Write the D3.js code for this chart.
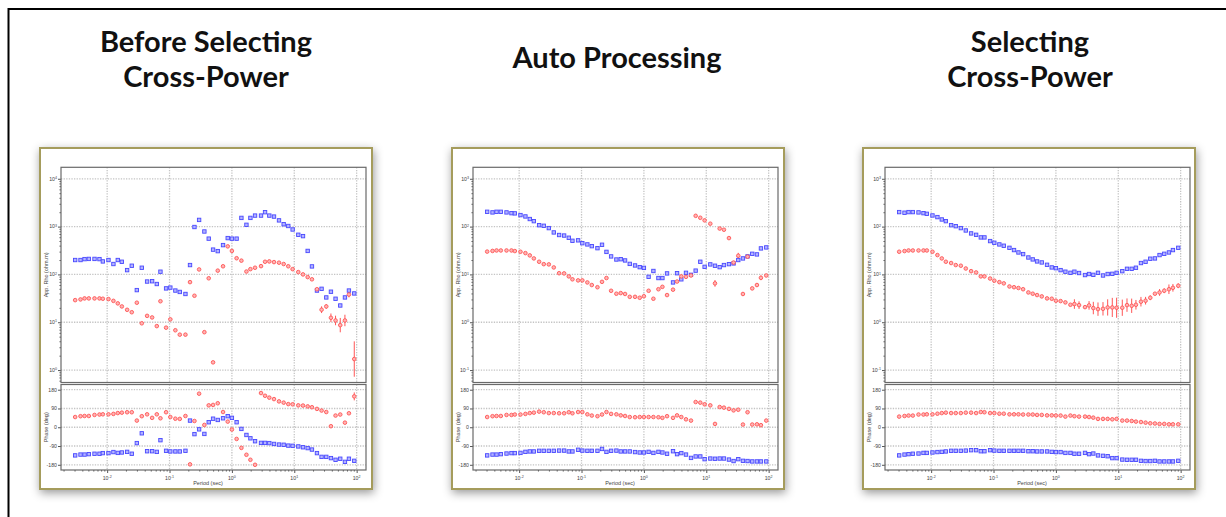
<!DOCTYPE html>
<html>
<head>
<meta charset="utf-8">
<script src="https://cdn.jsdelivr.net/npm/d3@7"></script>
<style>
  body { margin: 0; background: #fff; }
  svg { display: block; }
</style>
</head>
<body>
<svg id="chart" width="1226" height="517"></svg>
<script>
// ---- data -------------------------------------------------------------
const periods = [0.00307,0.00374,0.00434,0.00508,0.00627,0.00753,0.00853,0.0105,0.0126,0.0148,
  0.0172,0.0209,0.0248,0.0299,0.0359,0.0437,0.0526,0.0625,0.0715,0.0881,
  0.103,0.124,0.146,0.180,0.213,0.251,0.298,0.362,0.425,0.499,
  0.593,0.721,0.857,1.00,1.19,1.42,1.71,1.98,2.35,2.93,
  3.40,3.98,4.73,5.69,6.76,8.02,9.41,11.6,13.8,16.4,
  19.2,23.1,27.4,32.6,38.7,45.9,54.6,64.9,75.2,91.6];

const titles = [["Before Selecting", "Cross-Power"], ["Auto Processing"], ["Selecting", "Cross-Power"]];

const xTickExps = [-2, -1, 0, 1, 2];
const phaseTicks = [180, 90, 0, -90, -180];
const rhoTopDecade = [4, 3, 3];

// Before selecting cross-power
const rhoXY1 = [200,200,209,211,211,209,187,200,165,200, 184,123,152,47,138,71,72,63,114,51,
  53,46,43,39,157,980,1380,790,560,330, 307,410,575,560,560,1520,1090,1520,1700,1700,
  2000,1700,1620,1350,1120,1030,870,675,632,310, 147,46,50,33,43.5,31,22.4,33,46,40];
const rhoYX1 = [29,30,31.5,31.5,31.5,31.5,31,30.5,28,24.8, 21.4,18.2,16.2,25.6,9.5,13.6,12.6,8.3,27.5,7.7,
  11.5,6.8,5.5,5.5,69,35.8,127,6.2,83,1.45, 120,148,386,310,218,194,115,129,138,149,
  184,187,181,176,165,148,129,112,100,88, 79,49,18.3,21.4,12.4,10.9,8.7,10.9,38,1.7];
const phiXY1 = [-135,-131,-131,-129,-127,-127,-124,-124,-119,-123, -121,-118,-127,-76,-29,-115,-115,-118,-62,-113,
  -116,-116,-116,-113,32,-33,-10,-32,24,41, 35,43,53,45,24,-8,-37,-53,-67,-75,
  -75,-76,-80,-83,-84,-88,-89,-92,-96,-100, -107,-124,-142,-142,-148,-156,-151,-166,-151,-161];
const phiYX1 = [49,53,54,54,59,61,62,62,64,68, 70,72,72,32,53,62,45,62,43,72,
  49,41,40,54,-178,30,161,11,105,107, 115,73,27,-11,-56,-99,-132,-156,-180,164,
  151,142,135,124,118,111,110,105,104,100, 96,88,80,73,5,56,61,22,67,148];
const rhoErrYX1 = [[52,0.07],[53,0.05],[54,0.09],[55,0.1],[56,0.15],[57,0.12],[58,0.06],[59,0.37]];
const phiErrYX1 = [[59,19]];

// Auto processing
const rhoXY2 = [204,198,204,204,198,191,189,174,163,144, 130,107,104,93,75.5,66.7,65,58.5,50.5,51.6,
  45,42.4,39,35.4,41.7,29.6,23.8,20.5,20.8,19.6, 16.6,15.4,14.2,13.7,8.9,11.8,8.4,8.4,10.5,6.8,
  10.6,7.9,10.8,9.8,12,18.4,14.4,16.2,15.2,14.2, 15.7,16.4,17,20,21.6,23.8,27,26.2,35,36.7];
const rhoYX2 = [30,31,31.7,31.7,31.7,31.7,30.8,29.8,27.9,25, 21.6,18.4,16.4,16.2,14,10.6,10.5,9.1,7.9,7.5,
  7.5,6.8,6.0,5.4,7.0,8.4,4.55,3.95,4.07,3.9, 3.4,3.4,3.25,3.5,4.55,3.1,4.9,5.5,3.7,4.8,
  7.1,9.1,8.9,9.5,168,153,135,115,6.5,91, 86,57.5,17.7,24.6,3.9,23.5,5.1,6.0,8.5,9.5];
const phiXY2 = [-135,-131,-131,-129,-126,-124,-124,-123,-118,-116, -116,-113,-113,-113,-113,-112,-112,-116,-116,-108,
  -112,-113,-113,-113,-104,-118,-113,-112,-116,-116, -116,-119,-121,-121,-118,-123,-118,-121,-127,-115,
  -129,-124,-131,-147,-140,-140,-153,-150,-151,-150, -150,-155,-162,-153,-161,-162,-164,-164,-164,-164];
const phiYX2 = [49,53,54,54,59,59,61,61,64,68, 70,75,72,68,68,67,67,72,67,73,
  73,62,56,53,61,73,64,62,57,54, 49,48,49,49,49,49,48,45,53,45,
  57,49,38,32,121,118,110,105,16,97, 94,88,81,84,13,72,13,14,10,32];
const rhoErrYX2 = [[48,0.07],[53,0.06],[54,0.04],[57,0.04],[58,0.05]];
const phiErrYX2 = [];

// Selecting cross-power
const rhoXY3 = [201,195,201,201,198,191,185,171,158,141, 130,107,102,93,83,72,67.3,59.4,59.4,49.8,
  45.9,42.4,39.8,36,32.3,28.8,26.6,22.6,20.6,18.7, 17.8,15.9,14,13.5,12.3,11.4,10.8,11.4,10.7,9.7,
  10.2,9.8,10.8,9.5,10.2,10.3,10.8,11.7,13.1,13.1, 13.8,17.3,18.4,21.3,21.6,25.4,27,28.8,32.3,36];
const rhoYX3 = [29.8,30.8,31.7,31.7,31.7,31.7,31.7,29.8,25.4,21.6, 18.4,17.3,15.7,15.2,13.3,11.7,11,9.1,9.1,8.2,
  7.4,6.9,6.5,5.6,5.4,5.2,4.9,4.2,3.95,3.7, 3.47,3.15,3.1,2.82,2.77,2.6,2.32,2.4,2.28,2.07,
  2.25,1.98,1.88,1.91,2.04,2.04,2.01,2.01,2.28,2.21, 2.32,2.69,2.82,3.25,3.95,4.2,4.56,4.9,5.25,5.8];
const phiXY3 = [-135,-131,-129,-127,-126,-123,-123,-121,-119,-118, -116,-113,-113,-113,-112,-110,-110,-115,-115,-110,
  -112,-113,-113,-113,-113,-113,-113,-115,-115,-116, -116,-116,-118,-119,-119,-123,-123,-127,-127,-123,
  -129,-126,-135,-137,-139,-148,-148,-155,-156,-156, -156,-161,-162,-162,-161,-164,-164,-164,-164,-161];
const phiYX3 = [51,54,56,56,61,61,62,62,65,68, 70,68,68,68,70,70,68,73,72,68,
  68,65,65,62,62,62,61,61,61,59, 59,57,57,56,56,51,56,53,51,51,
  49,46,40,40,40,38,40,32,32,30, 27,25,22,19,18,16,16,14,14,14];
const rhoErrYX3 = [[37,0.1],[38,0.08],[40,0.09],[41,0.13],[42,0.14],[43,0.14],[44,0.17],[45,0.2],[46,0.21],
  [47,0.17],[48,0.14],[49,0.15],[50,0.1],[51,0.1],[52,0.08],[53,0.05],[55,0.07],[56,0.05],[57,0.1],[58,0.08],[59,0.05]];
const phiErrYX3 = [[42,7],[43,7],[44,7],[45,7],[46,7],[47,7],[48,6],[49,6],[50,6],[51,5],[52,5],[53,4]];

const panels = [
  { rhoXY: rhoXY1, rhoYX: rhoYX1, phiXY: phiXY1, phiYX: phiYX1, rhoErr: rhoErrYX1, phiErr: phiErrYX1 },
  { rhoXY: rhoXY2, rhoYX: rhoYX2, phiXY: phiXY2, phiYX: phiYX2, rhoErr: rhoErrYX2, phiErr: phiErrYX2 },
  { rhoXY: rhoXY3, rhoYX: rhoYX3, phiXY: phiXY3, phiYX: phiYX3, rhoErr: rhoErrYX3, phiErr: phiErrYX3 }
];

// ---- layout -----------------------------------------------------------
const layout = [
  { frameX: 40,  plotX: 61,  titleX: 206,  titleY: [52, 87], line: [42, 366],  lineY: 102 },
  { frameX: 452, plotX: 473, titleX: 617,  titleY: [68],     line: [458, 782], lineY: 104 },
  { frameX: 863, plotX: 885, titleX: 1030, titleY: [52, 87], line: [861, 1185], lineY: 104 }
];
const FRAME_Y = 148, FRAME_W = 332, FRAME_H = 341, PLOT_W = 305;
const RHO_TOP = 167.3, RHO_BOT = 382.5, PH_TOP = 384.5, PH_BOT = 470;

const BLUE_STROKE = "#4848ff", BLUE_FILL = "#b4b4ff";
const RED_STROKE = "#ff5555", RED_FILL = "#ffb4b4";

const svg = d3.select("#chart");
const defs = svg.append("defs");

const fShadow = defs.append("filter").attr("id", "frameShadow")
  .attr("x", "-8%").attr("y", "-8%").attr("width", "120%").attr("height", "118%");
fShadow.append("feDropShadow").attr("dx", 1).attr("dy", 3).attr("stdDeviation", 5)
  .attr("flood-color", "#000").attr("flood-opacity", 0.4);

const lShadow = defs.append("filter").attr("id", "lineShadow")
  .attr("x", "-5%").attr("y", "-300%").attr("width", "110%").attr("height", "900%");
lShadow.append("feDropShadow").attr("dx", 1).attr("dy", 3).attr("stdDeviation", 2)
  .attr("flood-color", "#000").attr("flood-opacity", 0.35);

const soft = defs.append("filter").attr("id", "soft");
soft.append("feGaussianBlur").attr("stdDeviation", 0.3);

// outer border
svg.append("rect").attr("x", 8.5).attr("y", 9).attr("width", 1300).attr("height", 600)
  .attr("fill", "none").attr("stroke", "#000").attr("stroke-width", 2);

function pow10Label(sel, exp) {
  sel.append("tspan").text("10");
  sel.append("tspan").attr("dy", "-0.45em").attr("font-size", "0.7em").text(exp);
}

function minorTicks(lo, hi) {
  const out = [];
  for (let d = Math.floor(lo); d <= Math.ceil(hi); d++) {
    for (let m = 2; m <= 9; m++) {
      const v = m * Math.pow(10, d);
      const l = Math.log10(v);
      if (l >= lo && l <= hi) out.push(v);
    }
  }
  return out;
}

panels.forEach((d, k) => {
  const L = layout[k];
  const g = svg.append("g");

  // title and red underline
  const t = g.append("g");
  titles[k].forEach((line, j) => {
    t.append("text").attr("x", L.titleX).attr("y", L.titleY[j])
      .attr("text-anchor", "middle").attr("font-family", "Lato, 'Open Sans', sans-serif")
      .attr("font-weight", 700).attr("font-size", 29).attr("fill", "#111").text(line);
  });
  g.append("line").attr("x1", L.line[0]).attr("x2", L.line[1]).attr("y1", L.lineY).attr("y2", L.lineY)
    .attr("stroke", "#c00010").attr("stroke-width", 2.6).attr("filter", "url(#lineShadow)");

  // framed plot
  g.append("rect").attr("x", L.frameX).attr("y", FRAME_Y).attr("width", FRAME_W).attr("height", FRAME_H)
    .attr("fill", "#fff").attr("stroke", "#a59c5c").attr("stroke-width", 2).attr("filter", "url(#frameShadow)");

  const xLo = -2.74, xHi = 2.15;
  const x = d3.scaleLog().domain([Math.pow(10, xLo), Math.pow(10, xHi)]).range([L.plotX, L.plotX + PLOT_W]);
  const top = rhoTopDecade[k];
  const yLo = top - 4.26, yHi = top + 0.24;
  const yR = d3.scaleLog().domain([Math.pow(10, yLo), Math.pow(10, yHi)]).range([RHO_BOT, RHO_TOP]);
  const yP = d3.scaleLinear().domain([-205, 205]).range([PH_BOT, PH_TOP]);

  const xMajors = xTickExps.map(e => Math.pow(10, e));
  const rhoMajors = d3.range(top - 4, top + 1).map(e => Math.pow(10, e));

  const gridStyle = s => s.attr("stroke", "#c4c4c4").attr("stroke-width", 1.3).attr("stroke-dasharray", "1.3,1.3");

  // gridlines
  [[RHO_TOP, RHO_BOT], [PH_TOP, PH_BOT]].forEach(([y0, y1]) => {
    g.append("g").selectAll("line").data(xMajors).join("line")
      .attr("x1", v => x(v)).attr("x2", v => x(v)).attr("y1", y0).attr("y2", y1).call(gridStyle);
  });
  g.append("g").selectAll("line").data(rhoMajors).join("line")
    .attr("x1", L.plotX).attr("x2", L.plotX + PLOT_W).attr("y1", v => yR(v)).attr("y2", v => yR(v)).call(gridStyle);
  g.append("g").selectAll("line").data(phaseTicks).join("line")
    .attr("x1", L.plotX).attr("x2", L.plotX + PLOT_W).attr("y1", v => yP(v)).attr("y2", v => yP(v)).call(gridStyle);

  // axes: ticks only, labels drawn separately with superscripts
  const tickStyle = a => a.selectAll("path,line").attr("stroke", "#555");
  g.append("g").attr("transform", `translate(${L.plotX},0)`)
    .call(d3.axisLeft(yR).tickValues(minorTicks(yLo, yHi)).tickSize(1.5).tickFormat(""))
    .call(tickStyle).call(a => a.select(".domain").remove());
  g.append("g").attr("transform", `translate(${L.plotX},0)`)
    .call(d3.axisLeft(yR).tickValues(rhoMajors).tickSize(3).tickFormat(""))
    .call(tickStyle).call(a => a.select(".domain").remove());
  g.append("g").attr("transform", `translate(${L.plotX},0)`)
    .call(d3.axisLeft(yP).tickValues(phaseTicks).tickSize(3).tickFormat(""))
    .call(tickStyle).call(a => a.select(".domain").remove());
  g.append("g").attr("transform", `translate(0,${PH_BOT})`)
    .call(d3.axisBottom(x).tickValues(minorTicks(xLo, xHi)).tickSize(1.5).tickFormat(""))
    .call(tickStyle).call(a => a.select(".domain").remove());
  g.append("g").attr("transform", `translate(0,${PH_BOT})`)
    .call(d3.axisBottom(x).tickValues(xMajors).tickSize(3).tickFormat(""))
    .call(tickStyle).call(a => a.select(".domain").remove());

  const lblFont = "'Liberation Sans', Arial, sans-serif";
  rhoMajors.forEach((v, i) => {
    g.append("text").attr("x", L.plotX - 4).attr("y", yR(v) + 1.8).attr("text-anchor", "end")
      .attr("font-family", lblFont).attr("font-size", 5.2).attr("fill", "#444")
      .call(s => pow10Label(s, String(top - 4 + i)));
  });
  phaseTicks.forEach(v => {
    g.append("text").attr("x", L.plotX - 4).attr("y", yP(v) + 1.8).attr("text-anchor", "end")
      .attr("font-family", lblFont).attr("font-size", 5.2).attr("fill", "#444").text(v);
  });
  xTickExps.forEach(e => {
    g.append("text").attr("x", x(Math.pow(10, e))).attr("y", 479.5).attr("text-anchor", "middle")
      .attr("font-family", lblFont).attr("font-size", 5.2).attr("fill", "#444")
      .call(s => pow10Label(s, String(e)));
  });
  g.append("text").attr("x", L.plotX + 147).attr("y", 485).attr("text-anchor", "middle")
    .attr("font-family", lblFont).attr("font-size", 5.5).attr("fill", "#444").text("Period (sec)");
  g.append("text").attr("transform", `translate(${L.frameX + 7.5},${(RHO_TOP + RHO_BOT) / 2}) rotate(-90)`)
    .attr("text-anchor", "middle").attr("font-family", lblFont).attr("font-size", 5.5).attr("fill", "#444")
    .text("App. Rho (ohm.m)");
  g.append("text").attr("transform", `translate(${L.frameX + 7.5},${(PH_TOP + PH_BOT) / 2}) rotate(-90)`)
    .attr("text-anchor", "middle").attr("font-family", lblFont).attr("font-size", 5.5).attr("fill", "#444")
    .text("Phase (deg)");

  // marks
  const marks = g.append("g").attr("filter", "url(#soft)");
  const idx = d3.range(periods.length);

  // error bars (red component)
  marks.append("g").selectAll("line").data(d.rhoErr).join("line")
    .attr("x1", e => x(periods[e[0]])).attr("x2", e => x(periods[e[0]]))
    .attr("y1", e => yR(d.rhoYX[e[0]] * Math.pow(10, e[1])))
    .attr("y2", e => yR(d.rhoYX[e[0]] / Math.pow(10, e[1])))
    .attr("stroke", RED_STROKE).attr("stroke-width", 1);
  marks.append("g").selectAll("line").data(d.phiErr).join("line")
    .attr("x1", e => x(periods[e[0]])).attr("x2", e => x(periods[e[0]]))
    .attr("y1", e => yP(d.phiYX[e[0]] + e[1])).attr("y2", e => yP(d.phiYX[e[0]] - e[1]))
    .attr("stroke", RED_STROKE).attr("stroke-width", 1);

  const drawSquares = (vals, ys) => marks.append("g").selectAll("rect")
    .data(idx.filter(i => vals[i] != null)).join("rect")
    .attr("x", i => x(periods[i]) - 1.7).attr("y", i => ys(vals[i]) - 1.7)
    .attr("width", 3.4).attr("height", 3.4)
    .attr("fill", BLUE_FILL).attr("stroke", BLUE_STROKE).attr("stroke-width", 0.9);
  const drawCircles = (vals, ys) => marks.append("g").selectAll("circle")
    .data(idx.filter(i => vals[i] != null)).join("circle")
    .attr("cx", i => x(periods[i])).attr("cy", i => ys(vals[i])).attr("r", 1.8)
    .attr("fill", RED_FILL).attr("stroke", RED_STROKE).attr("stroke-width", 0.9);

  drawSquares(d.rhoXY, yR);
  drawCircles(d.rhoYX, yR);
  drawSquares(d.phiXY, yP);
  drawCircles(d.phiYX, yP);

  // plot borders
  [[RHO_TOP, RHO_BOT], [PH_TOP, PH_BOT]].forEach(([y0, y1]) => {
    g.append("rect").attr("x", L.plotX).attr("y", y0).attr("width", PLOT_W).attr("height", y1 - y0)
      .attr("fill", "none").attr("stroke", "#6a6a6a").attr("stroke-width", 1.2);
  });
});
</script>
</body>
</html>
